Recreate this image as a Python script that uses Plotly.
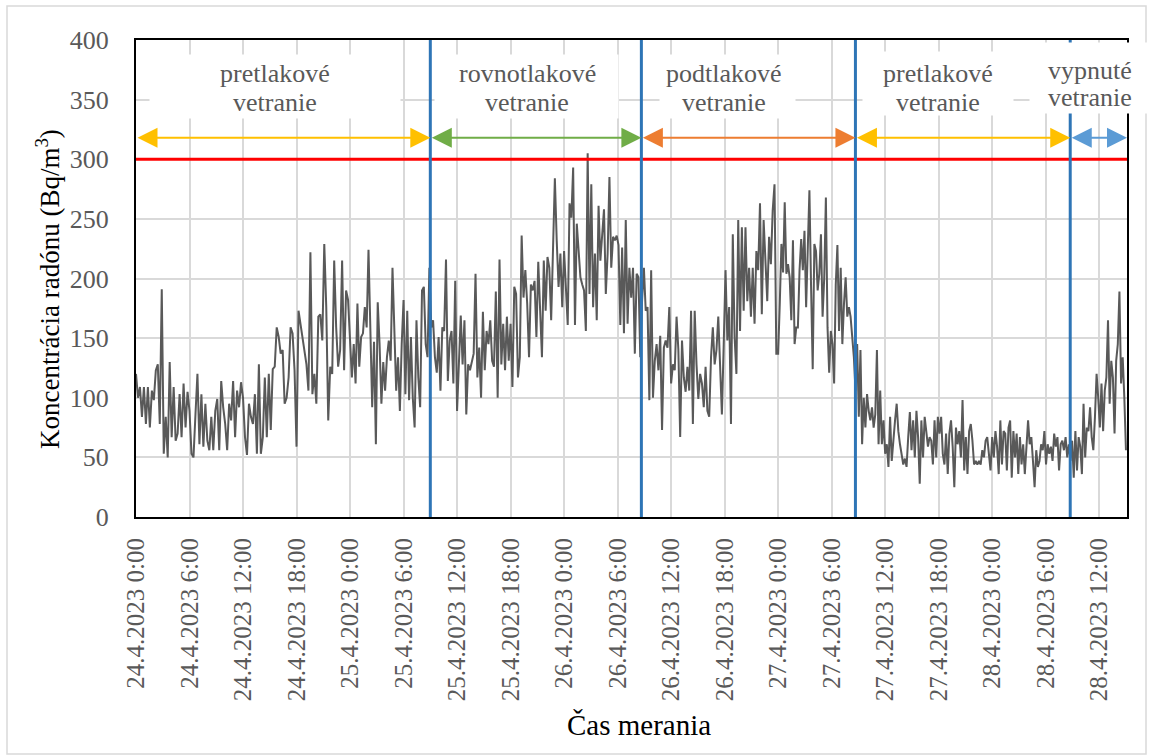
import pandas as pd
import plotly.graph_objects as go

# ---------------- data ----------------
DAY_STARTS = ["2023-04-24 00:00", "2023-04-25 00:00", "2023-04-26 00:00",
              "2023-04-27 00:00", "2023-04-28 00:00"]
DAY_SPAN_HOURS = [24, 24, 24, 24, 15]   # last day measured until 15:00 (inclusive)

DAY_24 = [120, 100, 109, 84, 109, 78, 109, 75, 106, 98,
          123, 128, 78, 191, 53, 84, 50, 130, 67, 109,
          64, 70, 103, 67, 112, 75, 105, 89, 53, 50,
          86, 120, 61, 103, 59, 95, 64, 56, 84, 56,
          89, 99, 56, 114, 92, 78, 56, 95, 81, 114,
          67, 106, 92, 113, 100, 67, 52, 95, 84, 78,
          103, 53, 128, 53, 67, 117, 67, 120, 73, 124,
          126, 159, 151, 137, 140, 95, 100, 117, 159, 154,
          123, 59, 173, 162, 148, 140, 128, 106, 222, 103,
          120, 95, 168, 170, 148, 229, 176, 81, 126, 120,
          215, 159, 126, 140, 215, 123, 190, 182]

DAY_25 = [148, 117, 145, 112, 179, 126, 151, 154, 176, 159,
          224, 145, 92, 147, 61, 180, 145, 95, 130, 106,
          134, 148, 131, 209, 156, 106, 134, 89, 145, 182,
          103, 173, 98, 151, 100, 75, 165, 117, 92, 190,
          193, 145, 134, 209, 159, 165, 134, 121, 151, 106,
          159, 156, 216, 114, 148, 156, 112, 198, 89, 134,
          169, 128, 165, 86, 128, 123, 131, 137, 204, 117,
          142, 100, 172, 123, 156, 145, 165, 131, 126, 189,
          100, 216, 128, 162, 123, 168, 131, 162, 109, 193,
          187, 117, 134, 236, 184, 207, 179, 134, 195, 190,
          198, 151, 214, 173, 134, 215, 173, 218, 209, 165,
          221, 284, 232, 193, 221, 176]

DAY_26 = [223, 187, 161, 263, 251, 293, 161, 246, 221, 201,
          195, 190, 156, 305, 187, 279, 176, 221, 165, 261,
          215, 237, 258, 187, 221, 285, 209, 235, 232, 236,
          228, 161, 226, 154, 249, 162, 209, 184, 209, 137,
          204, 201, 134, 182, 209, 173, 176, 98, 207, 100,
          131, 145, 123, 152, 73, 142, 148, 142, 176, 112,
          128, 123, 168, 140, 67, 148, 117, 105, 126, 106,
          173, 78, 173, 128, 99, 120, 112, 92, 126, 89,
          84, 134, 159, 128, 140, 168, 117, 86, 145, 207,
          148, 176, 78, 237, 151, 120, 249, 156, 243, 173,
          243, 181, 209, 168, 209, 162, 223, 207, 263, 170,
          249, 207, 181, 235, 212, 257, 279, 137]

DAY_27 = [137, 179, 229, 205, 264, 204, 212, 201, 165, 232,
          145, 159, 159, 207, 233, 207, 240, 176, 229, 274,
          193, 124, 229, 223, 190, 204, 237, 168, 201, 268,
          159, 121, 156, 145, 112, 195, 228, 156, 209, 145,
          179, 201, 168, 176, 168, 151, 134, 106, 145, 84,
          140, 61, 100, 75, 103, 89, 81, 92, 75, 86,
          140, 61, 106, 61, 81, 53, 61, 42, 84, 47,
          67, 81, 95, 72, 61, 50, 44, 49, 42, 67,
          88, 56, 81, 50, 89, 67, 28, 81, 50, 84,
          70, 59, 67, 64, 44, 81, 50, 84, 70, 84,
          53, 44, 70, 36, 70, 81, 59, 25, 75, 61,
          72, 50, 98, 39, 67, 36, 72, 78, 64, 44,
          47, 44, 47, 44, 56, 50, 64, 67, 53, 39]

DAY_28 = [67, 50, 72, 59, 36, 81, 44, 72, 70, 39,
          75, 81, 33, 72, 50, 70, 36, 67, 44, 61,
          36, 56, 81, 61, 67, 47, 25, 56, 42, 47,
          61, 56, 72, 44, 61, 53, 59, 47, 70, 59,
          67, 39, 61, 64, 56, 67, 50, 61, 47, 64,
          33, 72, 39, 67, 59, 36, 95, 50, 75, 72,
          92, 67, 56, 84, 120, 100, 75, 112, 72, 106,
          117, 165, 95, 131, 117, 70, 131, 145, 189, 112,
          134, 100, 56]

LIMIT_VALUE = 300   # reference level (Bq/m3)

PHASE_LINE1 = ["pretlakové", "rovnotlakové", "podtlakové", "pretlakové", "vypnuté"]
PHASE_LINE2 = ["vetranie", "vetranie", "vetranie", "vetranie", "vetranie"]
PHASE_BOUNDS = ["2023-04-24 00:00", "2023-04-25 09:00", "2023-04-26 08:40",
                "2023-04-27 08:40", "2023-04-28 08:45", "2023-04-28 15:07"]
PHASE_COLORS = ["#FFC000", "#70AD47", "#ED7D31", "#FFC000", "#5B9BD5"]

TICK_LABELS = ["24.4.2023 0:00", "24.4.2023 6:00", "24.4.2023 12:00", "24.4.2023 18:00",
               "25.4.2023 0:00", "25.4.2023 6:00", "25.4.2023 12:00", "25.4.2023 18:00",
               "26.4.2023 0:00", "26.4.2023 6:00", "26.4.2023 12:00", "26.4.2023 18:00",
               "27.4.2023 0:00", "27.4.2023 6:00", "27.4.2023 12:00", "27.4.2023 18:00",
               "28.4.2023 0:00", "28.4.2023 6:00", "28.4.2023 12:00"]

# ---------------- build series ----------------
days = [DAY_24, DAY_25, DAY_26, DAY_27, DAY_28]
times, values = [], []
for k, (start, span, vals) in enumerate(zip(DAY_STARTS, DAY_SPAN_HOURS, days)):
    t0 = pd.Timestamp(start)
    n = len(vals)
    step = pd.Timedelta(hours=span) / (n - 1 if k == len(days) - 1 else n)
    for i, v in enumerate(vals):
        times.append(t0 + i * step)
        values.append(v)

tick_vals = [pd.to_datetime(s, format="%d.%m.%Y %H:%M") for s in TICK_LABELS]

FONT = "Liberation Serif, Times New Roman, serif"
GRAY = "#595959"

fig = go.Figure()
fig.add_trace(go.Scatter(x=times, y=values, mode="lines",
                         line=dict(color=GRAY, width=2), showlegend=False,
                         hoverinfo="skip"))

x_start = pd.Timestamp(PHASE_BOUNDS[0])
x_end = pd.Timestamp(PHASE_BOUNDS[-1])

shapes = []
# limit line
shapes.append(dict(type="line", xref="paper", x0=0, x1=1, yref="y",
                   y0=LIMIT_VALUE, y1=LIMIT_VALUE,
                   line=dict(color="#FF0000", width=3), layer="above"))
# phase boundaries
for b in PHASE_BOUNDS[1:-1]:
    shapes.append(dict(type="line", xref="x", x0=b, x1=b, yref="paper", y0=0, y1=1,
                       line=dict(color="#2E75B6", width=3), layer="above"))
# outer frame of chart area
shapes.append(dict(type="rect", xref="paper", yref="paper",
                   x0=(7 - 136) / 991, x1=(1146 - 136) / 991,
                   y0=(517 - 754) / 477, y1=(517 - 6) / 477,
                   line=dict(color="#d9d9d9", width=1.5), layer="below"))

annotations = []

# white text boxes behind the phase labels (as in the original text boxes)
BOX_HOURS = [15.59, 43.79, 66.28, 89.94, 106.93]
BOX_YC = [361.0, 361.0, 361.0, 363.9, 368.1]
BOX_W = [250, 183, 135, 150, 119]
BOX_H = [63, 63, 63, 63, 70]
for i in range(len(BOX_HOURS)):
    annotations.append(dict(x=x_start + pd.Timedelta(hours=BOX_HOURS[i]), y=BOX_YC[i],
                            xref="x", yref="y", text="&nbsp;", showarrow=False,
                            bgcolor="white", width=BOX_W[i], height=BOX_H[i], borderpad=0,
                            font=dict(size=10), xanchor="center", yanchor="middle"))

ARROW_Y = 318
for i, col in enumerate(PHASE_COLORS):
    annotations.append(dict(x=PHASE_BOUNDS[i + 1], y=ARROW_Y, ax=PHASE_BOUNDS[i], ay=ARROW_Y,
                            xref="x", yref="y", axref="x", ayref="y", text="",
                            showarrow=True, arrowhead=2, arrowsize=2, arrowwidth=2,
                            startarrowhead=2, startarrowsize=2, arrowside="end+start",
                            arrowcolor=col, standoff=0, startstandoff=0))

# phase label texts
LABEL_HOURS = [15.6, 43.85, 65.9, 89.9, 107.0]
LABEL_Y1 = [371.5, 371.5, 371.5, 371.5, 374.8]
LABEL_Y2 = [348.0, 348.0, 348.0, 348.0, 351.4]
for i in range(len(PHASE_LINE1)):
    xc = x_start + pd.Timedelta(hours=LABEL_HOURS[i])
    for txt, yy in ((PHASE_LINE1[i], LABEL_Y1[i]), (PHASE_LINE2[i], LABEL_Y2[i])):
        annotations.append(dict(x=xc, y=yy, xref="x", yref="y", text=txt, showarrow=False,
                                font=dict(family=FONT, size=26, color=GRAY),
                                xanchor="center", yanchor="middle"))

# axis titles
annotations.append(dict(x=(48 - 136) / 991, y=(517 - 289) / 477, xref="paper", yref="paper",
                        text="Koncentrácia radónu (Bq/m<sup>3</sup>)", textangle=-90,
                        showarrow=False, font=dict(family=FONT, size=27, color="black"),
                        xanchor="center", yanchor="middle"))
annotations.append(dict(x=(639 - 136) / 991, y=(517 - 725) / 477, xref="paper", yref="paper",
                        text="Čas merania", showarrow=False,
                        font=dict(family=FONT, size=29, color="black"),
                        xanchor="center", yanchor="middle"))

fig.update_layout(
    width=1149, height=756,
    margin=dict(l=136, r=22, t=40, b=239),
    paper_bgcolor="white", plot_bgcolor="white",
    shapes=shapes, annotations=annotations,
    showlegend=False,
)
fig.update_xaxes(type="date", range=[x_start, x_end],
                 tickvals=tick_vals, ticktext=TICK_LABELS, tickangle=-90,
                 tickfont=dict(family=FONT, size=25, color=GRAY),
                 ticks="outside", ticklen=9, tickcolor="rgba(0,0,0,0)",
                 showgrid=True, gridcolor="#d9d9d9", gridwidth=2,
                 showline=True, linecolor="black", linewidth=2, mirror=True,
                 zeroline=False)
fig.update_yaxes(range=[0, 400], dtick=50, tick0=0,
                 tickfont=dict(family=FONT, size=26, color=GRAY),
                 ticks="outside", ticklen=20, tickcolor="rgba(0,0,0,0)",
                 showgrid=True, gridcolor="#d9d9d9", gridwidth=2,
                 showline=True, linecolor="black", linewidth=2, mirror=True,
                 zeroline=False)

fig.write_html("out.html")
